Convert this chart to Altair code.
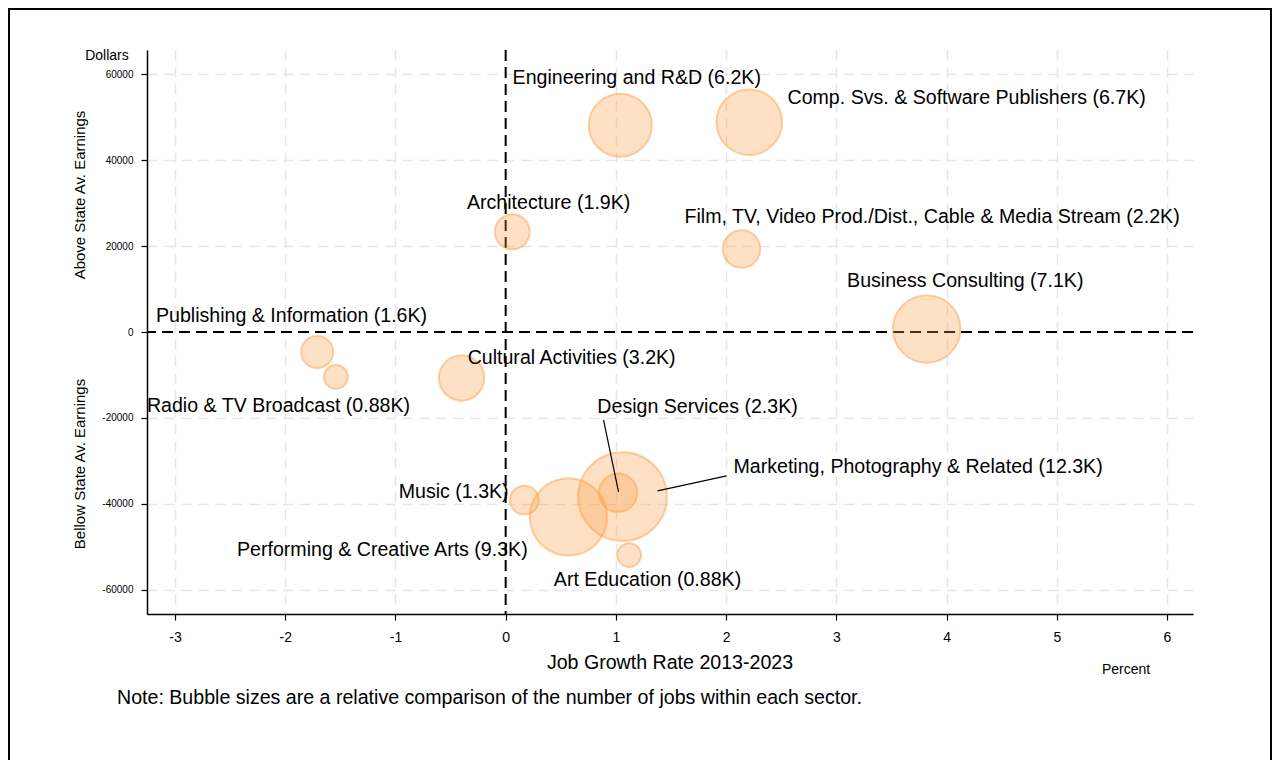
import altair as alt
import pandas as pd

FONT = "Liberation Sans"

sectors = [
    "Engineering and R&D", "Comp. Svs. & Software Publishers", "Architecture",
    "Film, TV, Video Prod./Dist., Cable & Media Stream", "Business Consulting",
    "Publishing & Information", "Radio & TV Broadcast", "Cultural Activities",
    "Design Services", "Marketing, Photography & Related", "Music",
    "Performing & Creative Arts", "Art Education",
]
growth = [1.04, 2.21, 0.06, 2.14, 3.82, -1.71, -1.54, -0.40, 1.02, 1.06, 0.17, 0.57, 1.12]
earnings = [48100, 48800, 23300, 19300, 700, -4650, -10450, -10700, -37400, -38300, -39100, -43000, -51900]
jobs_k = [6.2, 6.7, 1.9, 2.2, 7.1, 1.6, 0.88, 3.2, 2.3, 12.3, 1.3, 9.3, 0.88]
jobs_txt = ["6.2K", "6.7K", "1.9K", "2.2K", "7.1K", "1.6K", "0.88K", "3.2K", "2.3K", "12.3K", "1.3K", "9.3K", "0.88K"]

# label anchor positions (data units) and alignment
lab_x = [0.063, 2.557, 0.39, 1.623, 4.17, -3.173, -3.255, -0.345, 1.741, 2.067, 0.027, 0.20, 1.287]
lab_y = [59070, 54420, 30000, 26740, 11860, 3720, -17210, -6050, -17440, -31400, -37200, -50700, -57670]
lab_anchor = ["left", "left", "center", "left", "center", "left", "left", "left", "center", "left", "right", "right", "center"]

# leader lines (data units)
lead_x = [0.888, 2.004]
lead_y = [-20465, -33488]
lead_x2 = [1.024, 1.378]
lead_y2 = [-37209, -36977]

x_ticks = [-3, -2, -1, 0, 1, 2, 3, 4, 5, 6]
y_ticks = [-60000, -40000, -20000, 0, 20000, 40000, 60000]

df = pd.DataFrame({
    "sector": sectors, "growth": growth, "earnings": earnings, "jobs": jobs_k,
    "label": [f"{s} ({j})" for s, j in zip(sectors, jobs_txt)],
    "lab_x": lab_x, "lab_y": lab_y, "anchor": lab_anchor,
})
lead = pd.DataFrame({"x": lead_x, "y": lead_y, "x2": lead_x2, "y2": lead_y2})

W, H = 1046, 564
xs = alt.Scale(domain=[-3.254, 6.236], nice=False, zero=False)
ys = alt.Scale(domain=[-65600, 65600], nice=False, zero=False)

x_axis = alt.Axis(
    values=x_ticks, title=None, grid=True, gridColor="#e6e6e6", gridDash=[10, 7], gridWidth=1.5,
    domainColor="black", domainWidth=1.5, tickColor="black", tickSize=6, tickWidth=1.2,
    labelFont=FONT, labelFontSize=14, labelColor="black", labelPadding=10,
    labelExpr="'' + datum.value",
)
y_axis = alt.Axis(
    values=y_ticks, title=None, grid=True, gridColor="#e6e6e6", gridDash=[10, 7], gridWidth=1.5,
    domainColor="black", domainWidth=1.5, tickColor="black", tickSize=6, tickWidth=1.2,
    labelFont=FONT, labelFontSize=10, labelColor="black", labelPadding=8,
    labelExpr="'' + datum.value",
)

base = alt.Chart(df)

grid_layer = base.mark_point(opacity=0).encode(
    x=alt.X("growth:Q", scale=xs, axis=x_axis),
    y=alt.Y("earnings:Q", scale=ys, axis=y_axis),
)

zero_v = alt.Chart(pd.DataFrame({"v": [0]})).mark_rule(
    color="black", strokeWidth=2, strokeDash=[11, 6]
).encode(x=alt.X("v:Q", scale=xs))
zero_h = alt.Chart(pd.DataFrame({"v": [0]})).mark_rule(
    color="black", strokeWidth=2, strokeDash=[11, 6]
).encode(y=alt.Y("v:Q", scale=ys))

bubbles = base.mark_circle(
    fill="#fd9a3f", fillOpacity=0.3, stroke="#fd9a3f", strokeOpacity=0.45, strokeWidth=2
).encode(
    x=alt.X("growth:Q", scale=xs),
    y=alt.Y("earnings:Q", scale=ys),
    size=alt.Size("jobs:Q", scale=alt.Scale(domain=[0, 12.3], range=[0, 7900]), legend=None),
)

leaders = alt.Chart(lead).mark_rule(color="black", strokeWidth=1.2).encode(
    x=alt.X("x:Q", scale=xs), y=alt.Y("y:Q", scale=ys),
    x2="x2:Q", y2="y2:Q",
)

def lab_layer(al):
    return base.transform_filter(alt.datum.anchor == al).mark_text(
        align=al, baseline="middle", font=FONT, fontSize=19.6, color="black"
    ).encode(
        x=alt.X("lab_x:Q", scale=xs), y=alt.Y("lab_y:Q", scale=ys), text="label:N"
    )

def note(txt, x, y, size, angle=0, align="center"):
    return alt.Chart(pd.DataFrame({"t": [txt]})).mark_text(
        font=FONT, fontSize=size, color="black", angle=angle, align=align, baseline="middle"
    ).encode(x=alt.value(x), y=alt.value(y), text="t:N")

def frame_line(x, x2, y, y2):
    return alt.Chart(pd.DataFrame({"t": [0]})).mark_rule(color="black", strokeWidth=2).encode(
        x=alt.value(x), x2=alt.value(x2), y=alt.value(y), y2=alt.value(y2)
    )

chart = alt.layer(
    grid_layer, zero_v, zero_h, bubbles, leaders,
    lab_layer("left"), lab_layer("center"), lab_layer("right"),
    note("Dollars", -40, 6, 14),
    note("Above State Av. Earnings", -67, 145, 15, angle=270),
    note("Bellow State  Av. Earnings", -67, 414, 15, angle=270),
    note("Job Growth Rate 2013-2023", 523, 613, 19.6),
    note("Percent", 979, 620, 14),
    note("Note: Bubble sizes are a relative comparison of the number of jobs within each sector.", -30, 648, 19.6, align="left"),
    frame_line(-138, 1124, -41, -41),
    frame_line(-138, -138, -42, 800),
    frame_line(1124, 1124, -42, 800),
).properties(
    width=W, height=H,
    autosize=alt.AutoSizeParams(type="none"),
    padding={"left": 139, "top": 42, "right": 79, "bottom": 146},
).configure_view(stroke=None)

chart.save("out.html", embed_options={"renderer": "svg", "actions": False})
